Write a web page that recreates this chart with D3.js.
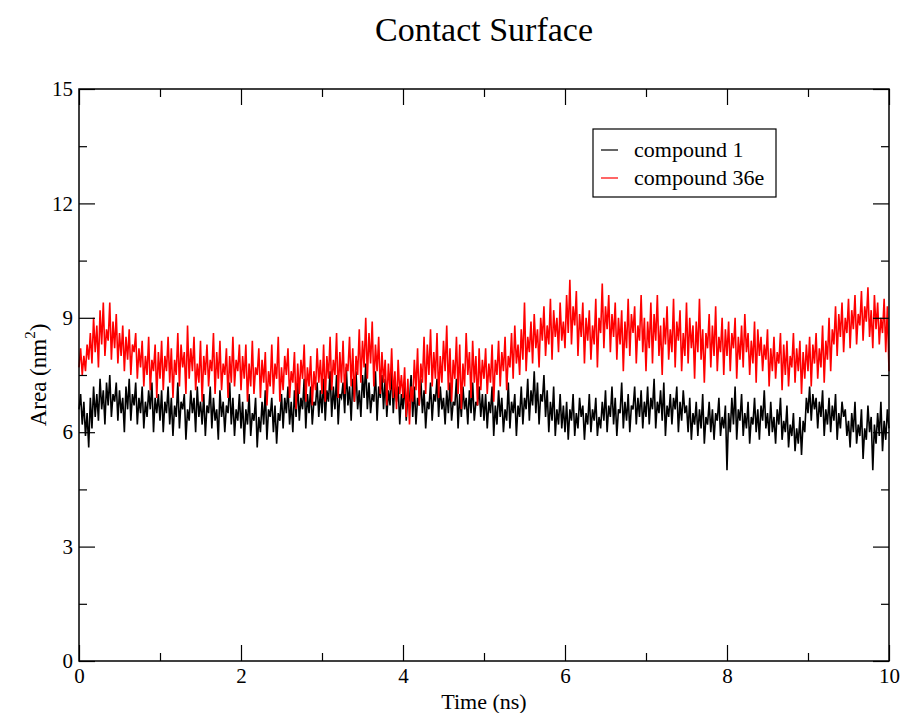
<!DOCTYPE html>
<html lang="en">
<head>
<meta charset="UTF-8">
<title>Contact Surface</title>
<style>
    body { margin: 0; background: #fff; }
    svg { font-family: "Liberation Serif", "Times New Roman", serif; }
</style>
</head>
<body>
<div id="graphic"></div>
<script src="https://cdn.jsdelivr.net/npm/d3@7"></script>
<script>
// simulation length (ns); the samples below are evenly spaced over it (0.02 ns)
var duration = 10;

// area (nm^2)
var compound1 = [
    6.6, 7.0, 6.2, 6.8, 5.9, 6.5, 5.6, 6.9, 6.1, 7.2, 6.4, 7.0, 6.3, 7.4, 6.6, 7.1, 6.2, 7.3, 6.7, 7.5, 6.4, 7.0, 6.8, 7.3, 6.3, 7.1, 6.5, 6.9, 6.0, 7.2, 6.6, 7.4, 6.3, 7.0, 6.7, 7.3, 6.2, 6.9, 6.5, 7.2, 6.1, 6.8, 6.4, 7.1, 6.6, 7.3, 6.0, 6.9, 6.5, 7.0,
    6.3, 7.1, 6.0, 6.8, 6.5, 7.2, 6.2, 6.9, 5.9, 6.7, 6.4, 7.3, 6.1, 6.8, 6.6, 7.0, 5.8, 6.6, 6.3, 7.1, 6.5, 6.9, 6.0, 7.2, 6.4, 6.8, 6.2, 7.0, 5.9, 6.7, 6.5, 7.2, 6.1, 6.9, 6.3, 6.6, 5.8, 7.1, 6.4, 6.8, 6.0, 6.7, 6.5, 7.3, 6.2, 6.9, 5.9, 6.6, 6.3, 7.0,
    6.1, 6.8, 5.7, 6.6, 6.2, 7.0, 5.9, 6.5, 6.3, 6.9, 5.6, 6.4, 6.0, 6.8, 6.2, 7.1, 5.8, 6.6, 6.4, 6.9, 6.0, 6.7, 5.7, 6.5, 6.3, 7.0, 6.1, 6.9, 6.5, 7.2, 6.2, 6.8, 6.0, 7.1, 6.4, 7.3, 6.3, 6.9, 6.6, 7.4, 6.1, 7.0, 6.5, 7.2, 6.2, 6.8, 6.7, 7.3, 6.4, 7.1,
    6.5, 7.4, 6.3, 7.1, 6.8, 7.6, 6.4, 7.2, 6.6, 7.5, 6.2, 7.0, 6.9, 7.3, 6.5, 7.7, 6.7, 7.2, 6.3, 7.4, 6.8, 7.6, 6.6, 7.1, 6.4, 7.5, 6.9, 7.8, 6.6, 7.3, 6.5, 7.0, 6.8, 7.6, 6.3, 7.2, 6.9, 7.5, 6.6, 7.4, 6.4, 7.1, 6.7, 7.7, 6.5, 7.3, 6.8, 7.2, 6.2, 7.0,
    6.6, 7.3, 6.3, 7.0, 6.8, 7.5, 6.4, 7.2, 6.2, 6.9, 6.7, 7.4, 6.5, 7.1, 6.1, 6.8, 6.6, 7.3, 6.3, 7.0, 6.8, 7.4, 6.4, 7.2, 6.6, 6.9, 6.2, 7.1, 6.5, 7.3, 6.3, 6.8, 6.7, 7.4, 6.1, 7.0, 6.4, 7.2, 6.6, 6.9, 6.2, 7.1, 6.5, 7.3, 6.3, 6.8, 6.7, 7.2, 6.4, 7.0,
    6.3, 7.0, 6.1, 6.8, 6.5, 7.2, 5.9, 6.7, 6.2, 7.1, 6.4, 6.9, 6.0, 6.6, 6.3, 7.3, 6.1, 6.8, 6.5, 7.0, 5.9, 6.7, 6.4, 7.2, 6.2, 6.9, 6.6, 7.4, 6.3, 7.1, 6.7, 7.6, 6.5, 7.3, 6.2, 7.0, 6.8, 7.5, 6.4, 7.1, 6.0, 6.8, 6.3, 7.2, 5.9, 6.6, 6.2, 7.0, 6.1, 6.7,
    6.0, 6.8, 5.8, 6.6, 6.3, 7.0, 5.9, 6.5, 6.1, 6.9, 6.4, 6.7, 5.8, 6.5, 6.2, 7.0, 6.0, 6.6, 6.3, 6.9, 5.9, 6.4, 6.1, 6.8, 6.3, 7.1, 6.0, 6.7, 6.4, 7.2, 6.2, 6.9, 5.9, 6.6, 6.5, 7.3, 6.1, 6.8, 6.3, 7.0, 6.0, 6.7, 6.6, 7.2, 6.2, 6.9, 6.4, 7.1, 6.1, 6.8,
    6.4, 7.2, 6.2, 6.9, 6.6, 7.4, 6.1, 6.8, 6.5, 7.1, 6.3, 7.3, 5.9, 6.7, 6.4, 7.0, 6.2, 6.9, 6.6, 7.2, 6.0, 6.8, 6.3, 7.1, 6.5, 6.7, 6.0, 6.9, 5.8, 6.5, 6.2, 6.8, 5.9, 6.6, 6.1, 7.0, 5.7, 6.4, 6.2, 6.8, 6.0, 6.6, 5.8, 6.5, 6.3, 6.9, 5.9, 6.4, 6.1, 6.7,
    5.0, 6.5, 6.0, 6.9, 6.2, 7.2, 5.8, 6.6, 6.3, 7.0, 5.9, 6.5, 6.1, 6.8, 5.7, 6.4, 6.2, 6.9, 6.0, 6.6, 5.8, 6.7, 6.3, 7.1, 6.1, 6.5, 5.9, 6.8, 6.0, 6.4, 5.7, 6.6, 6.2, 6.9, 5.8, 6.3, 6.0, 6.7, 5.6, 6.2, 5.9, 6.5, 5.5, 6.1, 5.7, 6.4, 5.4, 6.3, 6.0, 6.9,
    6.5, 7.2, 6.3, 7.0, 6.6, 6.9, 6.1, 6.8, 6.4, 7.1, 5.9, 6.6, 6.2, 6.9, 6.0, 6.7, 6.3, 7.0, 5.8, 6.5, 6.1, 6.8, 6.4, 6.6, 5.9, 6.3, 5.6, 6.5, 6.0, 6.8, 5.7, 6.2, 5.9, 6.6, 5.3, 6.1, 5.8, 6.7, 6.0, 6.4, 5.0, 6.2, 5.7, 6.5, 5.9, 6.8, 5.5, 6.3, 5.8, 6.6, 6.1
];
var compound36e = [
    7.7, 8.2, 7.5, 8.0, 7.6, 8.3, 7.9, 8.6, 7.8, 9.0, 8.1, 8.8, 7.7, 9.2, 8.3, 9.4, 8.0, 8.7, 8.4, 9.4, 7.9, 8.9, 8.2, 9.1, 7.8, 8.6, 8.0, 8.8, 7.6, 8.5, 7.9, 8.7, 7.5, 8.3, 8.1, 8.6, 7.4, 8.2, 7.7, 8.4, 7.2, 8.0, 7.5, 8.5, 7.1, 7.9, 7.6, 8.3, 6.9, 8.1,
    7.4, 8.4, 7.1, 8.0, 7.6, 8.5, 7.3, 8.2, 6.9, 7.9, 7.5, 8.6, 7.2, 8.3, 7.7, 8.1, 7.0, 8.8, 7.4, 8.2, 7.6, 8.5, 7.1, 7.8, 7.3, 8.4, 6.8, 8.0, 7.5, 8.3, 7.2, 7.9, 7.6, 8.6, 7.0, 8.1, 7.4, 8.4, 7.1, 7.8, 7.5, 8.2, 6.9, 8.0, 7.3, 8.5, 7.2, 7.9, 7.6, 8.3,
    7.1, 8.0, 7.4, 8.3, 6.8, 7.8, 7.2, 8.4, 7.0, 7.7, 7.5, 8.2, 6.9, 7.9, 7.3, 8.1, 6.7, 7.6, 7.2, 8.3, 7.0, 7.8, 7.4, 8.5, 6.8, 7.7, 7.1, 8.0, 7.5, 8.2, 6.9, 7.6, 7.3, 8.1, 6.6, 7.8, 7.0, 7.9, 7.4, 8.3, 6.8, 7.7, 7.2, 8.0, 6.7, 7.6, 7.1, 8.2, 7.3, 7.9,
    7.0, 8.3, 6.8, 8.0, 7.4, 8.5, 7.1, 7.9, 7.5, 8.6, 6.9, 8.1, 7.3, 8.4, 7.0, 7.8, 7.6, 8.5, 7.2, 8.2, 6.8, 8.0, 7.5, 8.7, 7.3, 8.4, 7.7, 9.0, 7.4, 8.6, 7.8, 8.9, 7.2, 8.3, 7.6, 8.5, 7.0, 8.1, 7.3, 7.9, 6.7, 7.8, 7.1, 8.2, 6.9, 7.6, 6.6, 7.9, 7.0, 7.5,
    6.9, 7.7, 6.4, 7.4, 6.2, 7.2, 6.8, 7.9, 7.1, 8.2, 6.7, 7.8, 7.3, 8.5, 7.0, 8.3, 7.5, 8.7, 7.2, 8.1, 7.4, 8.6, 6.9, 8.0, 7.3, 8.4, 7.6, 8.8, 7.1, 8.2, 6.8, 7.9, 7.4, 8.5, 7.0, 8.3, 6.6, 7.8, 7.2, 8.6, 7.5, 8.1, 6.9, 8.4, 7.3, 8.0, 6.7, 8.2, 7.1, 7.9,
    7.4, 8.2, 7.0, 7.8, 7.3, 8.3, 6.8, 7.9, 7.5, 8.4, 7.2, 8.1, 7.6, 8.5, 7.1, 8.0, 7.7, 8.6, 7.4, 8.8, 7.8, 8.3, 7.5, 8.7, 7.9, 9.4, 7.6, 8.5, 8.1, 8.9, 7.8, 9.1, 8.2, 8.7, 7.7, 9.0, 8.4, 9.3, 8.0, 8.8, 8.3, 9.5, 7.9, 9.2, 8.5, 9.0, 8.1, 9.4, 8.4, 8.9,
    8.2, 9.6, 8.6, 10.0, 8.3, 9.3, 8.8, 9.7, 8.0, 9.1, 8.5, 9.4, 7.8, 9.0, 8.4, 9.2, 7.9, 8.8, 8.3, 9.5, 7.7, 9.0, 8.6, 9.9, 8.2, 9.3, 8.7, 9.6, 8.1, 9.1, 8.5, 9.4, 7.9, 9.0, 8.3, 9.2, 7.6, 8.9, 8.2, 9.5, 8.0, 9.1, 8.6, 9.3, 7.8, 8.8, 8.4, 9.6, 8.1, 9.0,
    7.6, 8.9, 8.2, 9.4, 7.8, 9.1, 8.4, 9.6, 8.0, 8.8, 7.5, 9.0, 8.3, 9.3, 7.9, 8.7, 8.1, 9.5, 7.7, 8.9, 8.4, 9.2, 7.6, 8.6, 8.0, 9.4, 7.8, 9.0, 8.2, 8.8, 7.4, 8.9, 8.1, 9.5, 7.9, 8.7, 7.3, 8.6, 8.2, 9.1, 7.7, 8.8, 8.0, 9.3, 7.6, 8.5, 8.1, 9.0, 7.5, 8.7,
    8.0, 8.9, 7.6, 8.6, 8.2, 9.0, 7.4, 8.5, 7.9, 8.8, 7.7, 9.1, 8.1, 8.6, 7.5, 8.4, 7.8, 8.9, 7.3, 8.7, 8.0, 8.5, 7.6, 8.3, 7.9, 8.7, 7.2, 8.2, 7.6, 8.5, 7.4, 8.1, 7.8, 8.6, 7.1, 8.3, 7.5, 8.4, 7.2, 8.0, 7.7, 8.6, 7.3, 8.2, 7.6, 8.4, 7.0, 8.1, 7.4, 8.3,
    7.6, 8.5, 7.2, 8.3, 7.8, 8.6, 7.4, 8.2, 7.7, 8.8, 7.3, 8.4, 7.9, 9.0, 7.6, 8.7, 8.3, 9.3, 8.0, 9.1, 8.5, 9.4, 8.1, 9.0, 8.6, 9.5, 8.2, 9.2, 8.7, 9.6, 8.3, 9.1, 8.8, 9.7, 8.4, 9.3, 8.9, 9.8, 8.5, 9.2, 8.2, 9.6, 8.7, 9.4, 8.3, 9.0, 8.6, 9.5, 8.1, 9.3, 7.6
];

var seriesNames = ['compound 1', 'compound 36e'];
var seriesColors = ['#000000', '#ff0000'];

var xMajor = [0, 2, 4, 6, 8, 10];
var xMinor = [1, 3, 5, 7, 9];
var yMajor = [0, 3, 6, 9, 12, 15];
var yMinor = [1.5, 4.5, 7.5, 10.5, 13.5];

var width = 906;
var height = 713;
var margin = {top: 89, right: 17, bottom: 52, left: 79};
var plotW = width - margin.left - margin.right;
var plotH = height - margin.top - margin.bottom;

var svg = d3.select('#graphic')
    .append('svg')
    .attr('width', width)
    .attr('height', height);

var x = d3.scaleLinear().domain([0, 10]).range([0, plotW]);
var y = d3.scaleLinear().domain([0, 15]).range([plotH, 0]);

var g = svg.append('g')
    .attr('transform', 'translate(' + margin.left + ',' + margin.top + ')');

// data lines (black first, red drawn on top)
[compound1, compound36e].forEach(function(s, k) {
    var dt = duration / (s.length - 1);
    var line = d3.line()
        .x(function(d, i) { return x(i * dt); })
        .y(function(d) { return y(d); });
    g.append('path')
        .datum(s)
        .attr('fill', 'none')
        .attr('stroke', seriesColors[k])
        .attr('stroke-width', 1.6)
        .attr('stroke-linejoin', 'miter')
        .attr('d', line);
});

// axes: inward ticks on all four sides
function styleAxis(sel) {
    sel.select('.domain').remove();
    sel.selectAll('line').attr('stroke', '#000').attr('stroke-width', 1.2);
    sel.selectAll('text').attr('font-size', 21).attr('fill', '#000')
        .attr('font-family', '"Liberation Serif", serif');
}

g.append('g').attr('transform', 'translate(0,' + plotH + ')')
    .call(d3.axisBottom(x).tickValues(xMajor).tickSize(-16).tickPadding(7).tickFormat(d3.format('d')))
    .call(styleAxis);
g.append('g').attr('transform', 'translate(0,' + plotH + ')')
    .call(d3.axisBottom(x).tickValues(xMinor).tickSize(-8).tickFormat(''))
    .call(styleAxis);
g.append('g')
    .call(d3.axisTop(x).tickValues(xMajor).tickSize(-16).tickFormat(''))
    .call(styleAxis);
g.append('g')
    .call(d3.axisTop(x).tickValues(xMinor).tickSize(-8).tickFormat(''))
    .call(styleAxis);

g.append('g')
    .call(d3.axisLeft(y).tickValues(yMajor).tickSize(-16).tickPadding(6).tickFormat(d3.format('d')))
    .call(styleAxis);
g.append('g')
    .call(d3.axisLeft(y).tickValues(yMinor).tickSize(-8).tickFormat(''))
    .call(styleAxis);
g.append('g').attr('transform', 'translate(' + plotW + ',0)')
    .call(d3.axisRight(y).tickValues(yMajor).tickSize(-16).tickFormat(''))
    .call(styleAxis);
g.append('g').attr('transform', 'translate(' + plotW + ',0)')
    .call(d3.axisRight(y).tickValues(yMinor).tickSize(-8).tickFormat(''))
    .call(styleAxis);

// frame
g.append('rect')
    .attr('width', plotW)
    .attr('height', plotH)
    .attr('fill', 'none')
    .attr('stroke', '#000')
    .attr('stroke-width', 1.5);

// title and axis labels
svg.append('text')
    .attr('x', margin.left + plotW / 2)
    .attr('y', 41)
    .attr('text-anchor', 'middle')
    .attr('font-size', 34)
    .text('Contact Surface');

svg.append('text')
    .attr('x', margin.left + plotW / 2)
    .attr('y', 709)
    .attr('text-anchor', 'middle')
    .attr('font-size', 22)
    .text('Time (ns)');

var yl = svg.append('text')
    .attr('transform', 'translate(46,' + (margin.top + plotH / 2) + ') rotate(-90)')
    .attr('text-anchor', 'middle')
    .attr('font-size', 23);
yl.append('tspan').text('Area (nm');
yl.append('tspan').attr('font-size', 15).attr('dy', -11).text('2');
yl.append('tspan').attr('dy', 11).text(')');

// legend
var lg = svg.append('g').attr('transform', 'translate(593,129)');
lg.append('rect')
    .attr('width', 183)
    .attr('height', 68)
    .attr('fill', '#fff')
    .attr('stroke', '#000')
    .attr('stroke-width', 1.2);
seriesNames.forEach(function(name, k) {
    var row = lg.append('g').attr('transform', 'translate(0,' + (21 + k * 28) + ')');
    row.append('line')
        .attr('x1', 8).attr('x2', 25)
        .attr('stroke', seriesColors[k])
        .attr('stroke-width', 1.2);
    row.append('text')
        .attr('x', 41)
        .attr('y', 7)
        .attr('font-size', 22)
        .text(name);
});
</script>
</body>
</html>
